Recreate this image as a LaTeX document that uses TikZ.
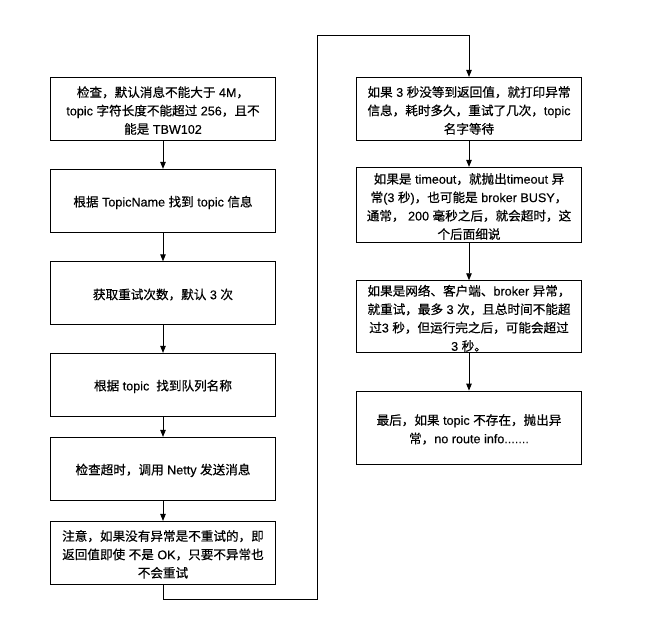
\documentclass[tikz,border=0pt]{standalone}
\usepackage{fontspec}
\setmainfont{Liberation Sans}[FakeBold=0.25]
\newfontfamily\cjkfont{Noto Sans CJK SC}[FakeBold=0.45]
\newfontfamily\latfont{Liberation Sans}[FakeBold=0.25]
\XeTeXinterchartokenstate=1
\newXeTeXintercharclass\cjkclass
\newcount\cjkcc
\cjkcc="3000 \loop \XeTeXcharclass\cjkcc=\cjkclass \advance\cjkcc 1 \ifnum\cjkcc<"3040 \repeat
\cjkcc="4E00 \loop \XeTeXcharclass\cjkcc=\cjkclass \advance\cjkcc 1 \ifnum\cjkcc<"A000 \repeat
\cjkcc="FF00 \loop \XeTeXcharclass\cjkcc=\cjkclass \advance\cjkcc 1 \ifnum\cjkcc<"FFF0 \repeat
\XeTeXinterchartoks 0 \cjkclass = {\cjkfont}
\XeTeXinterchartoks 4095 \cjkclass = {\cjkfont}
\XeTeXinterchartoks \cjkclass 0 = {\latfont}
\XeTeXinterchartoks \cjkclass 4095 = {\latfont}
\newcommand\topstrut{\rule{0pt}{14pt}}
\usetikzlibrary{arrows.meta}
\begin{document}
\begin{tikzpicture}[x=1pt,y=-1pt,
  box/.style={draw=black,line width=0.9pt,inner sep=0pt,minimum width=225pt,align=center,
    font=\fontsize{12.6}{18.4}\selectfont},
  conn/.style={draw=black,line width=0.9pt,-{Triangle[length=7pt,width=5.5pt]}},
  lnk/.style={draw=black,line width=0.9pt}]
\useasboundingbox (0,0) rectangle (664,624);
\fill[white] (0,0) rectangle (664,624);
\node[box,minimum height=62.3pt] (b1) at (163,108.9) {\topstrut 检查，默认消息不能大于 4M，\\topic 字符长度不能超过 256，且不\\能是 TBW102};
\node[box,minimum height=63pt] (b2) at (163,200.8) {\topstrut 根据 TopicName 找到 topic 信息};
\node[box,minimum height=62.3pt] (b3) at (163,292.9) {\topstrut 获取重试次数，默认 3 次};
\node[box,minimum height=62.7pt] (b4) at (163,384.7) {\topstrut 根据 topic \ 找到队列名称};
\node[box,minimum height=62.7pt] (b5) at (163,468.7) {\topstrut 检查超时，调用 Netty 发送消息};
\node[box,minimum height=62.7pt] (b6) at (163,552.7) {\topstrut 注意，如果没有异常是不重试的，即\\返回值即使 不是 OK，只要不异常也\\不会重试};
\node[box,minimum height=62.7pt] (r1) at (469,108.7) {\topstrut 如果 3 秒没等到返回值，就打印异常\\信息，耗时多久，重试了几次，topic\\名字等待};
\node[box,minimum height=75pt] (r2) at (469,204.8) {\topstrut 如果是 timeout，就抛出timeout 异\\常(3 秒)，也可能是 broker BUSY，\\通常， 200 毫秒之后，就会超时，这\\个后面细说};
\node[box,minimum height=72pt] (r3) at (469,316.7) {\topstrut 如果是网络、客户端、broker 异常，\\就重试，最多 3 次，且总时间不能超\\过3 秒，但运行完之后，可能会超过\\3 秒。};
\node[box,minimum height=73.3pt] (r4) at (469,427.7) {\topstrut 最后，如果 topic 不存在，抛出异\\常，no route info.......};
\coordinate (c1) at (163,599);
\coordinate (c2) at (317.5,599);
\coordinate (c3) at (317.5,35.3);
\coordinate (c4) at (469,35.3);
\draw[conn] (b1) -- (b2);
\draw[conn] (b2) -- (b3);
\draw[conn] (b3) -- (b4);
\draw[conn] (b4) -- (b5);
\draw[conn] (b5) -- (b6);
\draw[lnk] (b6.south) -- (c1) -- (c2) -- (c3) -- (c4);
\draw[conn] (c4) -- (r1.north);
\draw[conn] (r1) -- (r2);
\draw[conn] (r2) -- (r3);
\draw[conn] (r3) -- (r4);
\end{tikzpicture}
\end{document}
